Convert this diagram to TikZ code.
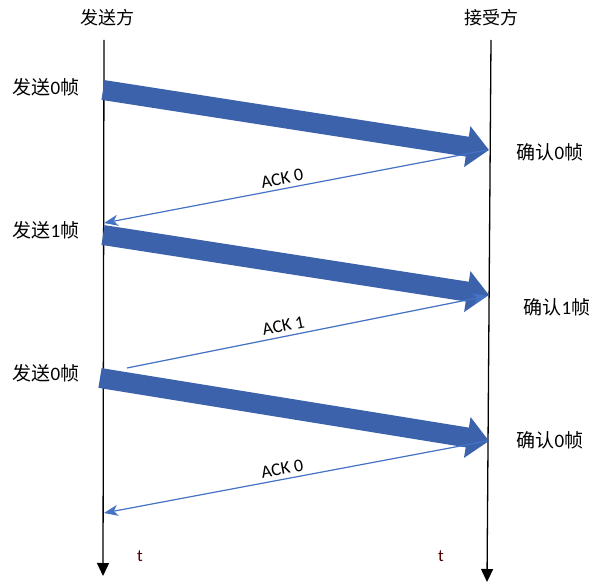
\documentclass[tikz,border=0pt]{standalone}
\usepackage{fontspec}
\setmainfont{Carlito}
\newfontfamily\cjk{Noto Sans CJK SC}
\usetikzlibrary{arrows.meta}
\definecolor{thickblue}{HTML}{3C62AC}
\definecolor{thinblue}{HTML}{4472C4}
\tikzset{
  lbl/.style={font=\cjk\fontsize{19}{21}\selectfont, inner sep=0pt},
  head/.style={font=\cjk\fontsize{18}{20}\selectfont, inner sep=0pt},
  timeline/.style={draw=black, line width=1.3pt, -{Triangle[length=13pt,width=12pt]}},
  frame/.style={draw=thickblue, line width=20pt, -{Triangle[length=22pt,width=40pt]}},
  ack/.style={draw=thinblue, line width=1.2pt, -{Stealth[length=14pt,width=11pt,inset=4pt]}},
  acklbl/.style={font=\fontsize{18}{20}\selectfont, inner sep=0pt, sloped, above=4pt},
  tlbl/.style={font=\fontsize{17}{19}\selectfont, text=black!70!red, inner sep=0pt}
}
\begin{document}
\begin{tikzpicture}[x=1pt,y=-1pt]
\useasboundingbox (0,0) rectangle (603,583);
% timelines
\coordinate (Ltop) at (104,40);
\coordinate (Lbot) at (103,576);
\coordinate (Rtop) at (491,40);
\coordinate (Rbot) at (487,582);
\draw[timeline] (Ltop) -- (Lbot);
\draw[timeline] (Rtop) -- (Rbot);
% headers
\node[head] (hs) at (107,18) {发送方};
\node[head] (hr) at (491,18) {接受方};
% frame arrows
\coordinate (f1s) at (103,90);
\coordinate (f1e) at (489,150);
\coordinate (f2s) at (103,235);
\coordinate (f2e) at (489,295);
\coordinate (f3s) at (100,378);
\coordinate (f3e) at (489,441);
\draw[frame] (f1s) -- (f1e);
\draw[frame] (f2s) -- (f2e);
\draw[frame] (f3s) -- (f3e);
% ack arrows
\coordinate (a1s) at (487,150);
\coordinate (a1e) at (104,223);
\coordinate (a2s) at (127,368);
\coordinate (a2e) at (487,296);
\coordinate (a3s) at (487,441);
\coordinate (a3e) at (104,513);
\draw[ack] (a1s) -- node[acklbl, pos=0.53] (k1) {ACK 0} (a1e);
\draw[ack] (a2s) -- node[acklbl, pos=0.44] (k2) {ACK 1} (a2e);
\draw[ack] (a3s) -- node[acklbl, pos=0.53] (k3) {ACK 0} (a3e);
% side labels
\node[lbl] (s1) at (46,87) {发送\fontspec{Carlito}0\cjk 帧};
\node[lbl] (s2) at (46,230) {发送\fontspec{Carlito}1\cjk 帧};
\node[lbl] (s3) at (46,373) {发送\fontspec{Carlito}0\cjk 帧};
\node[lbl] (r1) at (550,152) {确认\fontspec{Carlito}0\cjk 帧};
\node[lbl] (r2) at (557,307) {确认\fontspec{Carlito}1\cjk 帧};
\node[lbl] (r3) at (550,440) {确认\fontspec{Carlito}0\cjk 帧};
% t labels
\node[tlbl] (t1) at (140,556) {t};
\node[tlbl] (t2) at (441,556) {t};
\end{tikzpicture}
\end{document}
